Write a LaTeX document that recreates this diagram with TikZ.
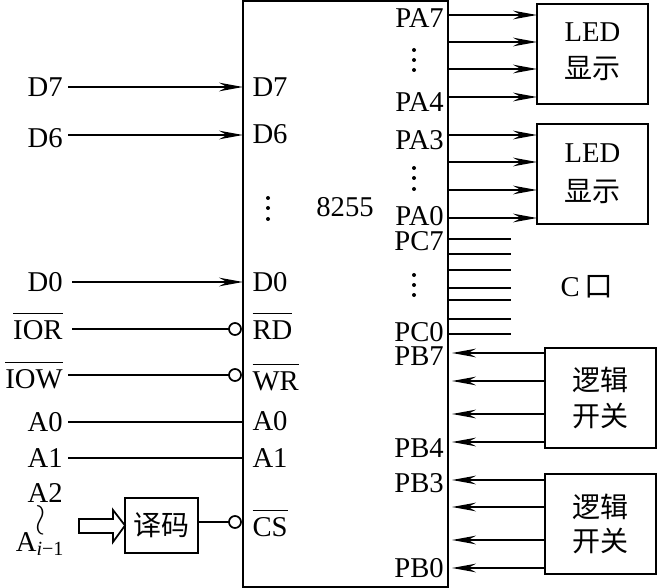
\documentclass[tikz,border=0pt]{standalone}
\usepackage{fontspec}
\setmainfont{Liberation Serif}
\newfontfamily\cjk{Noto Sans CJK SC}
\usetikzlibrary{arrows.meta}
\tikzset{sig/.style={-{Stealth[length=18pt,width=6.5pt,inset=6pt]}},
  box/.style={draw, outer sep=0pt, inner sep=0pt, align=center, anchor=north west},
  sname/.style={anchor=east, inner sep=0pt, inner xsep=3.4pt},
  lpin/.style={anchor=west, inner sep=0pt, inner xsep=2pt},
  rpin/.style={anchor=east, inner sep=0pt, inner xsep=2.5pt},
  bubble/.style={circle, draw, fill=white, inner sep=0pt, minimum size=9pt, outer sep=0pt}}
\newcommand{\ovl}[1]{$\overline{\mbox{\rule{0pt}{18pt}#1}}$}

\begin{document}
\begin{tikzpicture}[x=0.75pt,y=-0.75pt,line width=1.3pt,font=\fontsize{21.5}{25}\selectfont]
\useasboundingbox (0,0) rectangle (657,588);
% chip
\node[box, minimum width=153.75pt, minimum height=439.5pt] (chip) at (243,1) {};
\node (chipname) at (345,207) {8255};
\fill (268,198) circle (1.5pt) (268,208) circle (1.5pt) (268,219) circle (1.5pt);
% data lines
\node[sname] (sD7) at (68,87) {D7}; \node[lpin] (pD7) at (249,87) {D7};
\draw[sig] (sD7.east) -- (sD7.east -| chip.west);
\node[sname] (sD6) at (68,138) {D6}; \node[lpin] (pD6) at (249,134) {D6};
\draw[sig] ([yshift=2.25pt]sD6.east) -- ([yshift=2.25pt]sD6.east -| chip.west);
\node[sname] (sD0) at (68,282) {D0}; \node[lpin] (pD0) at (249,282) {D0};
\draw[sig] ([xshift=3pt]sD0.east) -- (sD0.east -| chip.west);
% control lines
\node[sname] (sIOR) at (68,326) {\ovl{IOR}}; \node[lpin] (pRD) at (249,326) {\ovl{RD}};
\node[bubble] (bRD) at (235,329) {};
\draw ([xshift=3pt]sIOR.east |- bRD) -- (bRD);
\node[sname] (sIOW) at (68,375) {\ovl{IOW}}; \node[lpin] (pWR) at (249,377) {\ovl{WR}};
\node[bubble] (bWR) at (235,375) {};
\draw (sIOW.east |- bWR) -- (bWR);
\node[sname] (sA0) at (68,422) {A0}; \node[lpin] (pA0) at (249,421) {A0};
\draw (sA0.east) -- (sA0.east -| chip.west);
\node[sname] (sA1) at (68,458) {A1}; \node[lpin] (pA1) at (249,458) {A1};
\draw (sA1.east) -- (sA1.east -| chip.west);
% decoder
\node[sname] (sA2) at (68,493) {A2};
\node[rotate=90, inner sep=0pt, xscale=1.6] (sTilde) at (42,520) {$\sim$};
\node[anchor=west, inner sep=0pt] (sAi) at (15,544) {A\textsubscript{\textit{i}−1}};
\node[box, minimum width=54.75pt, minimum height=41.25pt, font=\fontsize{21}{24}\selectfont\cjk] (dec) at (125,498) {译码};
\node[bubble] (bCS) at (235,522) {}; \node[lpin] (pCS) at (249,523) {\ovl{CS}};
\draw (dec.east |- bCS) -- (bCS);
\draw (79,519) -- (113,519) -- (113,510) -- (dec.west) -- (113,542) -- (113,533) -- (79,533) -- cycle;
% port A
\node[box, minimum width=83.25pt, minimum height=75pt] (ledA) at (537,4) {LED\\[3pt]{\fontsize{21}{24}\selectfont\cjk 显示}\rule[-5pt]{0pt}{0pt}};
\node[box, minimum width=83.25pt, minimum height=75pt] (ledB) at (537,124) {LED\\[4pt]{\fontsize{21}{24}\selectfont\cjk 显示}};
\node[rpin] (PA7) at (448,18) {PA7}; \node[rpin] (PA4) at (448,102) {PA4};
\node[rpin] (PA3) at (448,140) {PA3}; \node[rpin] (PA0) at (448,216) {PA0};
\coordinate (a7) at (448,15); \coordinate (a6) at (448,42); \coordinate (a5) at (448,69); \coordinate (a4) at (448,97);
\coordinate (a3) at (448,135); \coordinate (a2) at (448,162); \coordinate (a1) at (448,190); \coordinate (a0) at (448,218);
\draw[sig] (a7) -- (a7 -| ledA.west); \draw[sig] (a6) -- (a6 -| ledA.west);
\draw[sig] (a5) -- (a5 -| ledA.west); \draw[sig] (a4) -- (a4 -| ledA.west);
\draw[sig] (a3) -- (a3 -| ledB.west); \draw[sig] (a2) -- (a2 -| ledB.west);
\draw[sig] (a1) -- (a1 -| ledB.west); \draw[sig] (a0) -- (a0 -| ledB.west);
\fill (414,50) circle (1.5pt) (414,60) circle (1.5pt) (414,70) circle (1.5pt);
\fill (414,168) circle (1.5pt) (414,178) circle (1.5pt) (414,189) circle (1.5pt);
% port C
\node[rpin] (PC7) at (448,241) {PC7}; \node[rpin] (PC0) at (448,332) {PC0};
\node (portC) at (587,287) {C\,{\cjk 口}};
\coordinate (cend) at (511,0);
\coordinate (c7) at (448,239); \coordinate (c6) at (448,254); \coordinate (c5) at (448,270); \coordinate (c4) at (448,288);
\coordinate (c3) at (448,300); \coordinate (c2) at (448,319); \coordinate (c1) at (448,334);
\draw (c7) -- (c7 -| cend); \draw (c6) -- (c6 -| cend); \draw (c5) -- (c5 -| cend); \draw (c4) -- (c4 -| cend);
\draw (c3) -- (c3 -| cend); \draw (c2) -- (c2 -| cend); \draw (c1) -- (c1 -| cend);
\fill (414,275) circle (1.5pt) (414,285) circle (1.5pt) (414,295) circle (1.5pt);
% port B
\node[box, minimum width=83.25pt, minimum height=75pt, font=\fontsize{21}{24}\selectfont\cjk] (swA) at (545,348) {逻辑\\[3pt]开关\rule[-2pt]{0pt}{0pt}};
\node[box, minimum width=83.25pt, minimum height=75pt, font=\fontsize{21}{24}\selectfont\cjk] (swB) at (545,474) {逻辑\\[2pt]开关};
\node[rpin] (PB7) at (448,356) {PB7}; \node[rpin] (PB4) at (448,448) {PB4};
\node[rpin] (PB3) at (448,483) {PB3}; \node[rpin] (PB0) at (448,568) {PB0};
\coordinate (b7) at (452,353); \coordinate (b6) at (452,381); \coordinate (b5) at (452,414); \coordinate (b4) at (452,442);
\coordinate (b3) at (452,480); \coordinate (b2) at (452,507); \coordinate (b1) at (452,540); \coordinate (b0) at (452,568);
\draw[sig] (b7 -| swA.west) -- (b7); \draw[sig] (b6 -| swA.west) -- (b6);
\draw[sig] (b5 -| swA.west) -- (b5); \draw[sig] (b4 -| swA.west) -- (b4);
\draw[sig] (b3 -| swB.west) -- (b3); \draw[sig] (b2 -| swB.west) -- (b2);
\draw[sig] (b1 -| swB.west) -- (b1); \draw[sig] (b0 -| swB.west) -- (b0);
\end{tikzpicture}
\end{document}
